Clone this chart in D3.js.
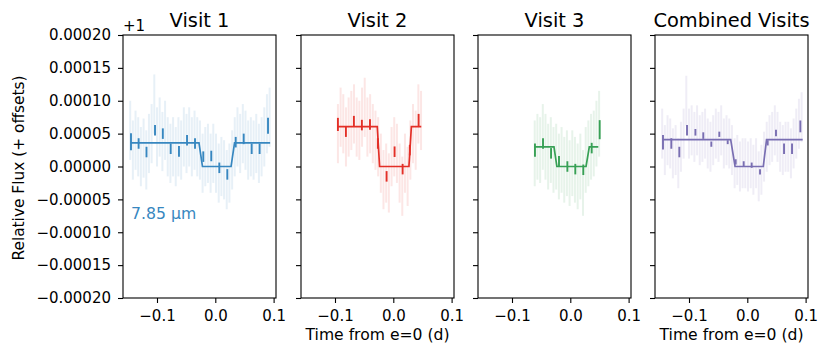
<!DOCTYPE html>
<html><head><meta charset="utf-8">
<script src="https://cdn.jsdelivr.net/npm/d3@7"></script>
<style>
body{margin:0;background:#fff;}
svg text{font-family:"DejaVu Sans",sans-serif;fill:#000;}
</style></head><body>
<svg id="chart" width="830" height="359"></svg>
<script>
// ---------------- DATA (flux in units of 1e-5, relative to +1) ----------------
const panelTitles = ["Visit 1", "Visit 2", "Visit 3", "Combined Visits"];
const panelColors = ["#3787c0", "#e32f27", "#37a055", "#796eb2"];
const yTicks = [-0.0002, -0.00015, -0.0001, -0.00005, 0, 0.00005, 0.0001, 0.00015, 0.0002];
const yTickLabels = ["\u22120.00020","\u22120.00015","\u22120.00010","\u22120.00005","0.00000","0.00005","0.00010","0.00015","0.00020"];
const xTicks = [-0.1, 0.0, 0.1];
const xTickLabels = ["\u22120.1", "0.0", "0.1"];
const cadence = 0.0046;   // unbinned sampling step (d)

// unbinned observations: start time + values (1e-5) + typical error (1e-5)
const raw1Start = -0.146;
const raw1 = [5.5,2.5,4.0,3.0,1.5,2.8,1.0,3.5,5.0,9.5,4.5,6.0,3.8,5.5,3.0,2.0,3.0,1.5,3.0,2.5,4.5,3.5,4.5,3.0,4.0,3.0,2.5,0.5,1.5,2.0,0.5,2.0,0.5,-1.0,0.0,-0.5,-2.0,-1.0,1.0,3.0,4.5,3.5,5.0,4.0,2.5,3.0,2.5,3.5,2.0,3.0,4.5,6.5,7.5];
const raw2Start = -0.095;
const raw2 = [5.0,7.5,6.5,4.5,6.0,7.0,8.0,6.0,5.5,7.5,9.0,6.0,6.5,5.0,4.0,3.0,0.5,-2.0,-1.0,-2.5,1.5,3.0,2.0,-1.0,-3.0,0.5,-1.5,2.5,5.0,4.0,8.0,7.0];
const raw3Start = -0.061;
const raw3 = [2.0,3.0,2.5,4.5,3.0,1.5,2.5,1.0,1.5,0.0,1.0,-0.5,0.5,-1.0,0.5,-0.5,-1.5,0.0,-2.5,1.0,2.0,3.0,3.5,5.0,6.5];
const raw4Start = -0.146;
const raw4 = [5.0,2.5,4.0,3.5,2.0,2.5,0.5,3.0,5.0,10.0,5.0,5.5,4.5,5.5,4.0,4.5,5.0,3.5,3.0,4.0,5.0,4.5,5.5,3.5,4.0,3.5,2.5,0.5,1.0,0.0,0.5,0.5,0.0,0.5,-0.5,0.5,-1.5,-0.5,1.5,3.0,4.0,4.5,5.5,4.5,3.0,2.5,3.0,3.0,2.0,3.5,5.0,6.5,7.5];
const rawErr = [4.5, 4.5, 5.0, 3.8];

// binned points: times, values, errors (1e-5)
const bin1T = [-0.1446,-0.1315,-0.118,-0.1034,-0.090,-0.0765,-0.0623,-0.0485,-0.0348,-0.0206,-0.0069,0.0069,0.0206,0.035,0.0487,0.0624,0.076,0.0904];
const bin1V = [3.77,3.5,2.2,5.5,5.0,2.7,2.3,4.0,3.5,1.5,1.6,-0.2,-1.2,3.7,4.2,2.7,2.7,6.2];
const bin1E = [1.3,0.8,0.8,0.8,0.8,0.8,0.8,0.8,0.8,0.8,0.8,0.8,0.8,0.8,0.8,0.8,0.8,1.2];
const bin2T = [-0.095,-0.0813,-0.0676,-0.0539,-0.040,-0.0265,-0.0115,0.0022,0.016,0.0283,0.0434];
const bin2V = [6.4,5.3,6.9,6.3,6.4,3.5,-1.5,2.25,-0.4,2.5,7.0];
const bin2E = [1.0,0.8,0.8,0.8,0.8,0.8,0.8,0.8,0.8,0.8,1.0];
const bin3T = [-0.0606,-0.0468,-0.033,-0.0194,-0.005,0.0086,0.0223,0.0367,0.0504];
const bin3V = [2.5,3.5,2.0,0.8,0.0,-0.4,-0.5,2.8,5.6];
const bin3E = [1.0,0.8,0.8,0.8,0.8,0.8,0.8,0.8,1.45];
const bin4T = [-0.1446,-0.1303,-0.1166,-0.1034,-0.089,-0.0755,-0.0617,-0.048,-0.0336,-0.0199,-0.0062,0.0075,0.0218,0.035,0.0492,0.063,0.0767,0.091];
const bin4V = [3.7,3.5,2.2,5.5,5.2,4.7,3.4,4.9,3.7,0.7,0.4,0.2,-0.8,3.6,5.1,2.7,2.7,6.1];
const bin4E = [1.1,0.8,0.8,0.8,0.5,0.5,0.4,0.4,0.3,0.4,0.4,0.4,0.4,0.4,0.5,0.8,0.8,0.9];

// eclipse model: [tStart, t1, t2, t3, t4, tEnd] and out-of-eclipse level (1e-5)
const model1T = [-0.145,-0.028,-0.022,0.027,0.033,0.094];
const model2T = [-0.095,-0.0275,-0.0235,0.0268,0.031,0.048];
const model3T = [-0.0606,-0.028,-0.023,0.027,0.0326,0.048];
const model4T = [-0.145,-0.0285,-0.021,0.0274,0.033,0.095];
const modelDepth = [3.6, 6.05, 3.0, 4.1];

const xDomain = [-0.1583, 0.1041];
const yDomain = [-0.0002, 0.0002];
const waveLabel = "7.85 \u00b5m";

// ---------------- DRAW ----------------
const svg = d3.select("#chart");
const panelLeft = [123, 301, 478, 655];
const pw = 153, plotTop = 35, plotBottom = 298;
const tickFont = 15;
const raws = [[raw1Start, raw1],[raw2Start, raw2],[raw3Start, raw3],[raw4Start, raw4]];
const bins = [[bin1T,bin1V,bin1E],[bin2T,bin2V,bin2E],[bin3T,bin3V,bin3E],[bin4T,bin4V,bin4E]];
const models = [model1T, model2T, model3T, model4T];
const y = d3.scaleLinear().domain(yDomain).range([plotBottom, plotTop]);
const s = 1e-5;

panelLeft.forEach((left, p) => {
  const x = d3.scaleLinear().domain(xDomain).range([left, left + pw]);
  const g = svg.append("g");
  const col = panelColors[p];
  const clipId = "clip" + p;
  svg.append("clipPath").attr("id", clipId).append("rect")
    .attr("x", left).attr("y", plotTop).attr("width", pw).attr("height", plotBottom - plotTop);
  const pg = g.append("g").attr("clip-path", `url(#${clipId})`);

  // unbinned
  const [st, vals] = raws[p];
  const rawPts = vals.map((v, i) => ({t: st + i * cadence, v: v * s, e: rawErr[p] * s}));
  pg.selectAll(".raw").data(rawPts).enter().append("line")
    .attr("x1", d => x(d.t)).attr("x2", d => x(d.t))
    .attr("y1", d => y(d.v - d.e)).attr("y2", d => y(d.v + d.e))
    .attr("stroke", col).attr("stroke-opacity", 0.12).attr("stroke-width", 2);

  // model
  const mt = models[p], fp = modelDepth[p] * s;
  const mPts = [[mt[0], fp],[mt[1], fp],[mt[2], 0],[mt[3], 0],[mt[4], fp],[mt[5], fp]];
  pg.append("path").datum(mPts)
    .attr("d", d3.line().x(d => x(d[0])).y(d => y(d[1])))
    .attr("fill", "none").attr("stroke", col).attr("stroke-width", 1.7);

  // binned
  const [bt, bv, be] = bins[p];
  pg.selectAll(".bin").data(bt.map((t, i) => ({t, v: bv[i] * s, e: be[i] * s}))).enter().append("line")
    .attr("x1", d => x(d.t)).attr("x2", d => x(d.t))
    .attr("y1", d => y(d.v - d.e)).attr("y2", d => y(d.v + d.e))
    .attr("stroke", col).attr("stroke-width", 1.9);

  // frame
  g.append("rect").attr("x", left).attr("y", plotTop).attr("width", pw).attr("height", plotBottom - plotTop)
    .attr("fill", "none").attr("stroke", "#000").attr("stroke-width", 1.1);

  // x axis
  const xa = g.append("g").attr("transform", `translate(0,${plotBottom})`)
    .call(d3.axisBottom(x).tickValues(xTicks).tickFormat((d, i) => xTickLabels[i]).tickSize(5).tickPadding(7));
  xa.select(".domain").remove();
  xa.selectAll("line").attr("stroke", "#000").attr("stroke-width", 1.1);
  xa.selectAll("text").attr("font-size", tickFont).attr("font-family", "DejaVu Sans").attr("fill", "#000");

  // y axis
  const ya = g.append("g").attr("transform", `translate(${left},0)`)
    .call(d3.axisLeft(y).tickValues(yTicks).tickFormat((d, i) => p === 0 ? yTickLabels[i] : "").tickSize(5).tickPadding(7));
  ya.select(".domain").remove();
  ya.selectAll("line").attr("stroke", "#000").attr("stroke-width", 1.1);
  ya.selectAll("text").attr("font-size", tickFont).attr("font-family", "DejaVu Sans").attr("fill", "#000");

  // title
  g.append("text").attr("x", left + pw / 2).attr("y", 27).attr("text-anchor", "middle")
    .attr("font-size", 19.4).text(panelTitles[p]);
});

svg.append("text").attr("x", 123).attr("y", 31).attr("font-size", tickFont).text("+1");
svg.append("text").attr("transform", `translate(24,168) rotate(-90)`)
  .attr("text-anchor", "middle").attr("font-size", 15.4).text("Relative Flux (+ offsets)");
[1, 3].forEach(p => {
  svg.append("text").attr("x", panelLeft[p] + pw / 2).attr("y", 340).attr("text-anchor", "middle")
    .attr("font-size", 15.6).text("Time from e=0 (d)");
});
svg.append("text").attr("x", 131).attr("y", 219).attr("font-size", 15.7)
  .style("fill", panelColors[0]).text(waveLabel);
</script>
</body></html>
